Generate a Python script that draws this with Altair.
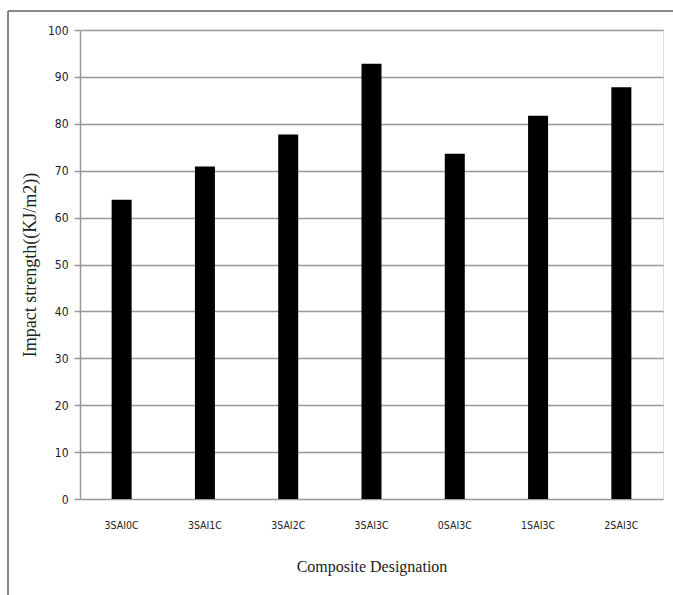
import altair as alt
import pandas as pd

categories = ["3SAI0C", "3SAI1C", "3SAI2C", "3SAI3C", "0SAI3C", "1SAI3C", "2SAI3C"]
values = [63.8, 70.9, 77.7, 92.8, 73.6, 81.7, 87.8]
y_ticks = [0, 10, 20, 30, 40, 50, 60, 70, 80, 90, 100]

df = pd.DataFrame({"cat": categories, "val": values})

W, H = 583, 469
LABEL_FONT = "DejaVu Sans Condensed, Liberation Sans Narrow, Roboto Condensed, sans-serif"

bars = alt.Chart(df).mark_bar(color="black", width=20).encode(
    x=alt.X("cat:N", sort=categories,
            scale=alt.Scale(paddingInner=0, paddingOuter=0),
            axis=alt.Axis(title="Composite Designation", labelAngle=0,
                          labelFont=LABEL_FONT, labelFontSize=10.5,
                          labelColor="#222", labelPadding=21,
                          titleFont="Liberation Serif", titleFontSize=16,
                          titleFontWeight="normal", titleColor="#222",
                          titlePadding=28, ticks=False, domain=False)),
    y=alt.Y("val:Q", scale=alt.Scale(domain=[0, 100]),
            axis=alt.Axis(title="Impact strength((KJ/m2))", values=y_ticks,
                          labelFont=LABEL_FONT, labelFontSize=12,
                          labelColor="#1a1a33", labelPadding=6,
                          titleFont="Liberation Serif", titleFontSize=18,
                          titleFontWeight="normal", titleColor="#222",
                          titlePadding=8,
                          gridColor="#999", gridWidth=1.5,
                          domainColor="#999", domainWidth=1.5,
                          tickColor="#999", tickSize=6, tickWidth=1.5)),
)

# decorative frame lines (screenshot border)
frame_left = alt.Chart(df).mark_rule(color="#888", strokeWidth=1).encode(
    x=alt.value(-72), y=alt.value(-19), y2=alt.value(H + 100))
frame_top = alt.Chart(df).mark_rule(color="#888", strokeWidth=1).encode(
    x=alt.value(-72), x2=alt.value(W + 20), y=alt.value(-19))

chart = alt.layer(bars, frame_left, frame_top).properties(
    width=W, height=H,
    autosize=alt.AutoSizeParams(type="none"),
    padding={"left": 80, "top": 30, "right": 10, "bottom": 96},
).configure_view(stroke=None).configure(background="white")

chart.save("out.html", embed_options={"renderer": "svg", "actions": False})
